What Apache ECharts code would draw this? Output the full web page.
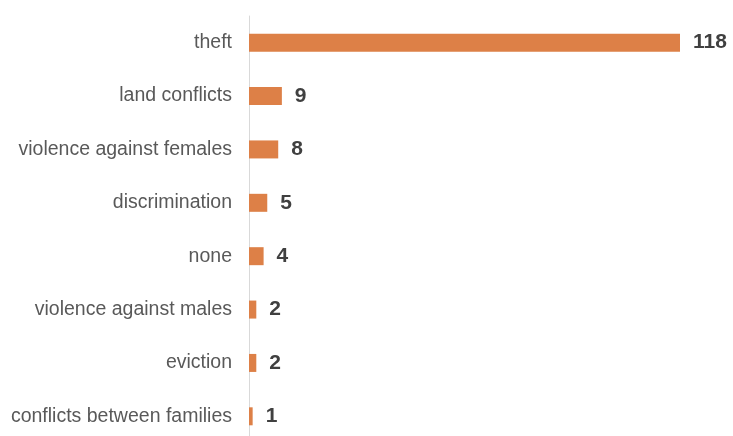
<!DOCTYPE html>
<html>
<head>
<meta charset="utf-8">
<script src="https://cdn.jsdelivr.net/npm/echarts@6/dist/echarts.min.js"></script>
<style>
  html, body { margin: 0; padding: 0; background: #fff; overflow: hidden; }
  #chart { width: 733px; height: 450px; }
</style>
</head>
<body>
<div id="chart"></div>
<script>
// Reported problems, ordered by number of mentions
const categories = [
  'theft',
  'land conflicts',
  'violence against females',
  'discrimination',
  'none',
  'violence against males',
  'eviction',
  'conflicts between families'
];
const counts = [118, 9, 8, 5, 4, 2, 2, 1];

const chart = echarts.init(document.getElementById('chart'));
chart.setOption({
  animation: false,
  grid: { left: 249, width: 431, top: 16, height: 427, containLabel: false },
  xAxis: {
    type: 'value',
    min: 0,
    max: 118,
    show: false
  },
  yAxis: {
    type: 'category',
    data: categories,
    inverse: true,
    axisLine: { show: true, lineStyle: { color: '#d9d9d9', width: 1 } },
    axisTick: { show: false },
    axisLabel: {
      color: '#595959',
      fontSize: 19.5,
      fontFamily: 'Liberation Sans, Arial, sans-serif',
      margin: 17
    }
  },
  series: [{
    type: 'bar',
    data: counts,
    barWidth: 18,
    itemStyle: { color: '#dd8047' },
    label: {
      show: true,
      position: 'right',
      distance: 13,
      color: '#404040',
      fontSize: 21,
      fontWeight: 'bold',
      fontFamily: 'Liberation Sans, Arial, sans-serif'
    }
  }]
});
</script>
</body>
</html>
